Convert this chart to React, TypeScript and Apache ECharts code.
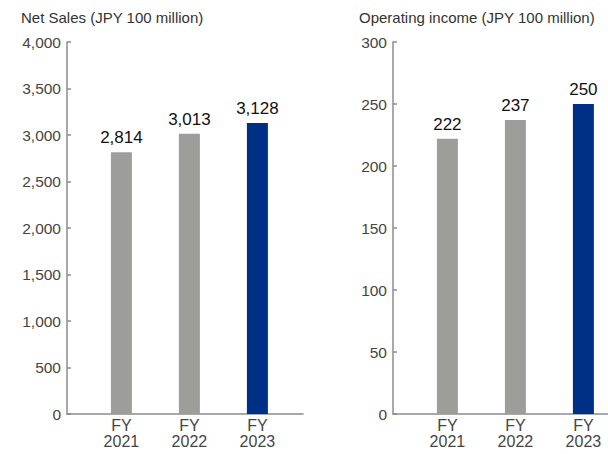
import React, { useEffect, useRef } from "react";
import * as echarts from "echarts";

const years = ["2021", "2022", "2023"];
const netSales = [2814, 3013, 3128];
const operatingIncome = [222, 237, 250];
const barColors = ["#9d9e9c", "#9d9e9c", "#002f86"];
const salesTitle = "Net Sales (JPY 100 million)";
const incomeTitle = "Operating income (JPY 100 million)";

const FONT = "'Liberation Sans', Arial, Helvetica, sans-serif";
const AXIS_COLOR = "#8c8c8c";
const LABEL_COLOR = "#454545";

function fmt(v: number) {
  return v.toLocaleString("en-US");
}

export default function App() {
  const ref = useRef<HTMLDivElement>(null);
  useEffect(() => {
    if (!ref.current) return;
    const chart = echarts.init(ref.current, undefined, { renderer: "svg" });
    const xAxis = (max: number) => ({
      type: "value",
      min: 0.2,
      max,
      axisLine: { show: true, lineStyle: { color: AXIS_COLOR, width: 1.5 } },
      axisTick: { show: false },
      splitLine: { show: false },
      axisLabel: {
        customValues: [1, 2, 3],
        formatter: (v: number) => "FY\n" + years[Math.round(v) - 1],
        color: LABEL_COLOR,
        fontSize: 16,
        lineHeight: 16,
        margin: 3,
        fontFamily: FONT,
        align: "center",
      },
    });
    const yAxis = (max: number, interval: number) => ({
      type: "value",
      min: 0,
      max,
      interval,
      axisLine: { show: true, lineStyle: { color: AXIS_COLOR, width: 1.5 } },
      axisTick: { show: true, inside: true, length: 4, lineStyle: { color: AXIS_COLOR, width: 1.5 } },
      splitLine: { show: false },
      axisLabel: {
        color: LABEL_COLOR,
        fontSize: 15.5,
        margin: 6,
        fontFamily: FONT,
        formatter: (v: number) => fmt(v),
      },
    });
    const barSeries = (idx: number, vals: number[]) => ({
      type: "bar",
      xAxisIndex: idx,
      yAxisIndex: idx,
      barWidth: 21,
      data: vals.map((v, i) => ({
        value: [i + 1, v],
        itemStyle: { color: barColors[i] },
      })),
      label: {
        show: true,
        position: "top",
        distance: 6,
        color: "#111",
        fontSize: 17,
        fontFamily: FONT,
        formatter: (p: any) => fmt(p.value[1]),
      },
    });
    chart.setOption({
      animation: false,
      title: [
        {
          text: salesTitle,
          left: 16,
          top: 5,
          textStyle: { fontSize: 15, fontWeight: "normal", color: "#333", fontFamily: FONT },
        },
        {
          text: incomeTitle,
          left: 354,
          top: 5,
          textStyle: { fontSize: 15, fontWeight: "normal", color: "#333", fontFamily: FONT },
        },
      ],
      grid: [
        { left: 67, right: 305, top: 42, bottom: 40 },
        { left: 393, right: 0, top: 42, bottom: 40 },
      ],
      xAxis: [
        { ...xAxis(0.2 + 236 / 68), gridIndex: 0 },
        { ...xAxis(0.2 + 215 / 68), gridIndex: 1 },
      ],
      yAxis: [
        { ...yAxis(4000, 500), gridIndex: 0 },
        { ...yAxis(300, 50), gridIndex: 1 },
      ],
      series: [barSeries(0, netSales), barSeries(1, operatingIncome)],
    });
    return () => chart.dispose();
  }, []);
  return <div ref={ref} style={{ width: 608, height: 454, position: "absolute", left: 0, top: 0 }} />;
}
